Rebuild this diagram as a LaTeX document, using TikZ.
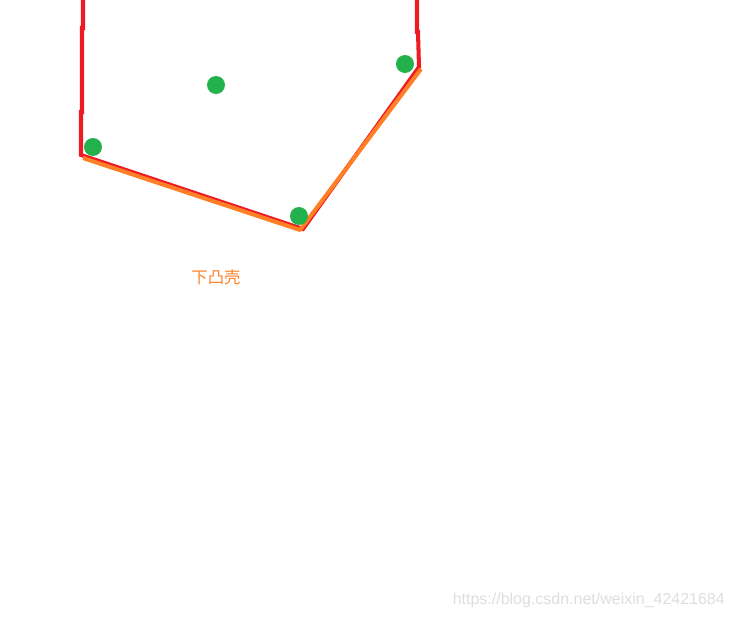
\documentclass[tikz,border=0pt]{standalone}
\usepackage{fontspec}
\setmainfont{Liberation Sans}
\newfontfamily\cjk{Noto Sans CJK SC}
\usetikzlibrary{positioning}
\usepackage{xcolor}
\definecolor{hullred}{RGB}{237,28,36}
\definecolor{hullorange}{RGB}{255,127,39}
\definecolor{ptgreen}{RGB}{34,177,76}
\tikzset{
  pt/.style={circle,fill=ptgreen,minimum size=0.36cm,inner sep=0pt},
  redhull/.style={draw=hullred,line width=2.3pt,line join=miter},
  lowhull/.style={draw=hullorange,line width=2.3pt,line join=round},
  mark label/.style={text=hullorange,font=\cjk\fontsize{9.3}{11}\selectfont},
  wm/.style={text=black!13,font=\fontsize{9.1}{11}\selectfont,anchor=east}
}
\begin{document}
\begin{tikzpicture}[x=0.02cm,y=-0.02cm]
\useasboundingbox (0,0) rectangle (734,619);
% hull corners (red)
\coordinate (rA) at (83,0);
\coordinate (rB) at (81,155);
\coordinate (rC) at (303,229);
\coordinate (rD) at (419,67);
\coordinate (rE) at (417,0);
\draw[redhull] (rA) -- (83,28) -- (82,28) -- (82,112) -- (81,112) -- (rB)
  -- (rC) -- (rD) -- (418,32) -- (417,32) -- (rE);
% lower hull (orange)
\coordinate (lA) at (83,158);
\coordinate (lB) at (300,230);
\coordinate (lC) at (421,69);
\draw[lowhull] (lA) -- (lB) -- (lC);
% points
\node[pt] (p1) at (93,147) {};
\node[pt] (p2) at (216,85) {};
\node[pt] (p3) at (299,216) {};
\node[pt] (p4) at (405,64) {};
\node[mark label] (lbl) at (216,277) {下凸壳};
\node[wm] (wmark) at (731,600) {https://blog.csdn.net/weixin\_42421684};
\end{tikzpicture}
\end{document}
